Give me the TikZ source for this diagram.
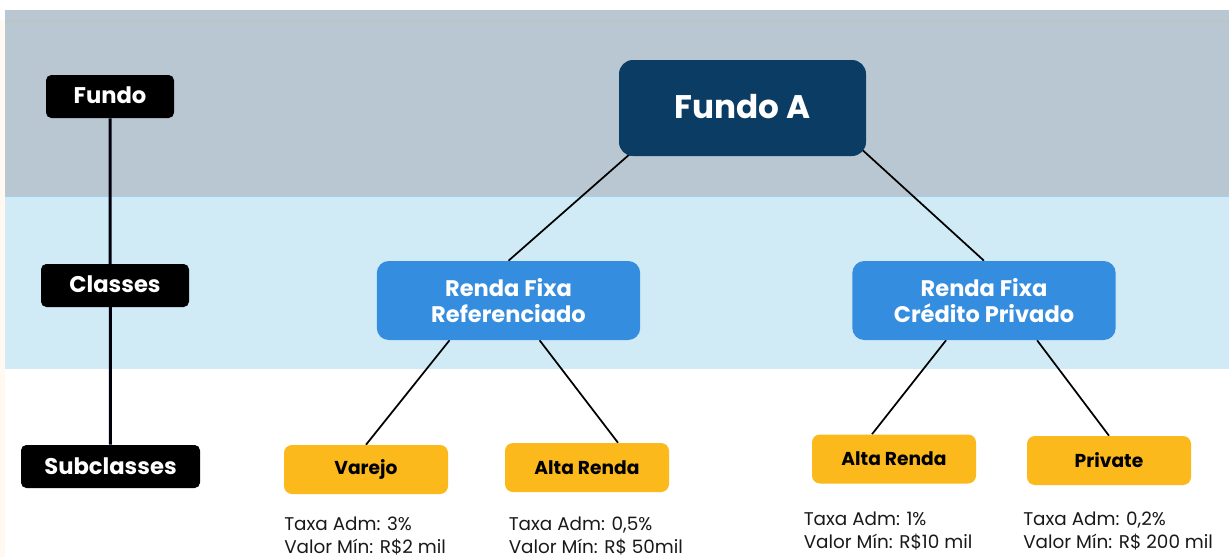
\documentclass[tikz,border=0pt]{standalone}
\usepackage{fontspec}
\setmainfont{Poppins}
\usetikzlibrary{calc}
\pgfdeclarelayer{bands}
\pgfdeclarelayer{links}
\pgfsetlayers{bands,links,main}
\definecolor{bandgray}{HTML}{B9C7D2}
\definecolor{bandline}{HTML}{B9C5C8}
\definecolor{bandblue}{HTML}{D0EBF6}
\definecolor{fundoblue}{HTML}{0B3C64}
\definecolor{classblue}{HTML}{348DDE}
\definecolor{subyellow}{HTML}{FBB91B}
\tikzset{
  levelbox/.style={fill=black,text=white,rounded corners=4pt,inner sep=0pt,minimum height=32.25pt,font=\bfseries\fontsize{17}{19}\selectfont},
  classbox/.style={fill=classblue,text=white,rounded corners=9pt,inner sep=0pt,minimum width=197.5pt,minimum height=59.25pt,align=center,font=\bfseries\fontsize{16.9}{20}\selectfont},
  subbox/.style={fill=subyellow,text=black,rounded corners=6pt,inner sep=0pt,minimum width=123pt,minimum height=36.75pt,font=\bfseries\fontsize{14}{16}\selectfont},
  infotext/.style={anchor=north west,inner sep=0pt,align=left,text=black!90,font=\fontsize{13.8}{17.25}\selectfont},
  link/.style={line width=1.3pt,black}
}
\begin{document}
\begin{tikzpicture}[x=0.75pt,y=-0.75pt]
\useasboundingbox (0,0) rectangle (1229,557);

%bands
\begin{pgfonlayer}{bands}
\fill[white] (0,0) rectangle (1229,557);
\fill[bandgray] (5,10) rectangle (1229,196);
\fill[bandline] (5,20) rectangle (1229,23);
\fill[bandblue] (5,196) rectangle (1229,369);
\draw[classblue!30!bandblue,line width=0.75pt] (5,196.5) -- (1229,196.5);
\fill[orange!5] (0,20) rectangle (5,557);
\end{pgfonlayer}

%levels
\node[levelbox,minimum width=96pt] (lvfundo) at (110,96.5) {\raisebox{1.5pt}{Fundo}};
\node[levelbox,minimum width=111pt] (lvclasses) at (115,285.5) {\raisebox{1.5pt}{Classes}};
\node[levelbox,minimum width=134.25pt] (lvsub) at (110.5,466.5) {\raisebox{1pt}{Subclasses}};

%tree
\node[fill=fundoblue,text=white,rounded corners=10.5pt,inner sep=0pt,minimum width=185.25pt,minimum height=72pt,font=\bfseries\fontsize{24.5}{28}\selectfont] (fa) at (742.5,108) {\raisebox{3pt}{Fundo A}};
\node[classbox] (rf1) at (508.5,300.5) {Renda Fixa\\Referenciado};
\node[classbox] (rf2) at (984,300.5) {Renda Fixa\\Crédito Privado};
\node[subbox] (var) at (366,469.5) {Varejo};
\node[subbox] (ar1) at (587,467.5) {Alta Renda};
\node[subbox] (ar2) at (894,459) {Alta Renda};
\node[subbox] (prv) at (1109,460.5) {Private};

\node[infotext] (d1) at (284,517) {Taxa Adm: 3\%\\Valor Mín: R\$2 mil};
\node[infotext] (d2) at (508.5,517) {Taxa Adm: 0,5\%\\Valor Mín: R\$ 50mil};
\node[infotext] (d3) at (803.5,512) {Taxa Adm: 1\%\\Valor Mín: R\$10 mil};
\node[infotext] (d4) at (1023,512) {Taxa Adm: 0,2\%\\Valor Mín: R\$ 200 mil};

\begin{pgfonlayer}{links}
\draw[line width=2.25pt,black!95!blue] (lvfundo.south) -- (lvsub.north);
\draw[link] ($(fa.south west)+(12,-3)$) -- (rf1.north);
\draw[link] ($(fa.south east)+(-9,-11)$) -- (rf2.north);
\draw[link] ($(rf1.south west)+(73,0)$) -- (var.north);
\draw[link] ($(rf1.south west)+(163,0)$) -- ($(ar1.north)+(31,0)$);
\draw[link] ($(rf2.south west)+(94,0)$) -- ($(ar2.north)+(-22,0)$);
\draw[link] ($(rf2.south west)+(185,0)$) -- (prv.north);
\end{pgfonlayer}

\end{tikzpicture}
\end{document}
